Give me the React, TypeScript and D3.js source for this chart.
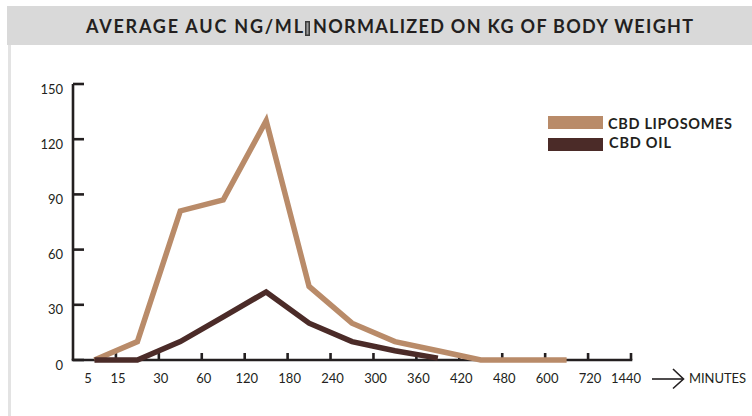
import React from "react";
import * as d3 from "d3";

const xLabels = ["5", "15", "30", "60", "120", "180", "240", "300", "360", "420", "480", "600", "720", "1440"];
const yTicks = [0, 30, 60, 90, 120, 150];
const liposomes = [0, 10, 81, 87, 130, 40, 20, 10, 5, 0, 0, 0];
const oil = [0, 0, 10, 23.5, 37, 20, 10, 5, 1];
const seriesNames = ["CBD LIPOSOMES", "CBD OIL"];
const colors = ["#b98b69", "#4b2b28"];

const INK = "#231f20";
const FONT = "Lato, 'Open Sans', sans-serif";

export default function App() {
  const x = d3.scaleLinear().domain([0, 13]).range([73, 631]);
  const y = d3.scaleLinear().domain([0, 150]).range([360, 84]);
  const line = d3
    .line<number>()
    .x((_, i) => x(i + 0.5))
    .y((d) => y(d));

  const labelNudge = (i: number) => (i === 0 ? 15 : i === xLabels.length - 1 ? -5 : 2);

  return (
    <svg
      width={752}
      height={416}
      style={{ position: "absolute", left: 0, top: 0, background: "#fff" }}
    >
      <rect x={0} y={0} width={752} height={416} fill="#fff" />
      {/* title band */}
      <rect x={7} y={6} width={745} height={39} fill="#d9d9d9" />
      <rect x={8} y={45} width={3} height={371} fill="#e3e3e3" />
      <text
        x={86}
        y={33}
        fontFamily={FONT}
        fontWeight={700}
        fontSize={18}
        fill={INK}
        textLength={217}
        lengthAdjust="spacing"
      >
        AVERAGE AUC NG/ML
      </text>
      <rect x={305} y={21} width={5} height={15} fill="#3a3a3a" />
      <rect x={306.5} y={22.5} width={2} height={12} fill="#9a9a9a" />
      <text
        x={313}
        y={33}
        fontFamily={FONT}
        fontWeight={700}
        fontSize={18}
        fill={INK}
        textLength={380}
        lengthAdjust="spacing"
      >
        NORMALIZED ON KG OF BODY WEIGHT
      </text>

      {/* y axis */}
      <line x1={73} x2={73} y1={y(150)} y2={y(0)} stroke={INK} strokeWidth={2.6} />
      {yTicks.map((t) => (
        <g key={t}>
          <line x1={73} x2={84} y1={y(t)} y2={y(t)} stroke={INK} strokeWidth={2.6} />
          <text
            x={63}
            y={y(t) + 9.5}
            textAnchor="end"
            fontFamily={FONT}
            fontSize={13}
            fill={INK}
          >
            {t}
          </text>
        </g>
      ))}

      {/* x axis */}
      <line x1={x(0) - 1.3} x2={x(13) + 1.3} y1={360} y2={360} stroke={INK} strokeWidth={2.6} />
      {d3.range(1, 14).map((i) => (
        <line key={i} x1={x(i)} x2={x(i)} y1={360} y2={353} stroke={INK} strokeWidth={2.6} />
      ))}
      {xLabels.map((l, i) => (
        <text
          key={l}
          x={x(i) + labelNudge(i)}
          y={382.5}
          textAnchor="middle"
          fontFamily={FONT}
          fontSize={13}
          fill={INK}
        >
          {l}
        </text>
      ))}
      <line x1={652} x2={683} y1={379} y2={379} stroke={INK} strokeWidth={1.6} />
      <polyline
        points="673,369 683.5,379 673,388.5"
        fill="none"
        stroke={INK}
        strokeWidth={1.6}
      />
      <text x={689} y={382.5} fontFamily={FONT} fontSize={13} fill={INK} textLength={57} lengthAdjust="spacing">
        MINUTES
      </text>

      {/* series */}
      <path d={line(liposomes) || ""} fill="none" stroke={colors[0]} strokeWidth={5.5} strokeLinejoin="miter" />
      <path d={line(oil) || ""} fill="none" stroke={colors[1]} strokeWidth={5.5} strokeLinejoin="miter" />

      {/* legend */}
      {seriesNames.map((n, i) => (
        <g key={n}>
          <rect x={548} y={116 + i * 22} width={55} height={13} fill={colors[i]} />
          <text
            x={608 + i}
            y={129.3 + i * 19}
            fontFamily={FONT}
            fontWeight={700}
            fontSize={14.5}
            fill={INK}
            textLength={i === 0 ? 124 : 62}
            lengthAdjust="spacing"
          >
            {n}
          </text>
        </g>
      ))}
    </svg>
  );
}
